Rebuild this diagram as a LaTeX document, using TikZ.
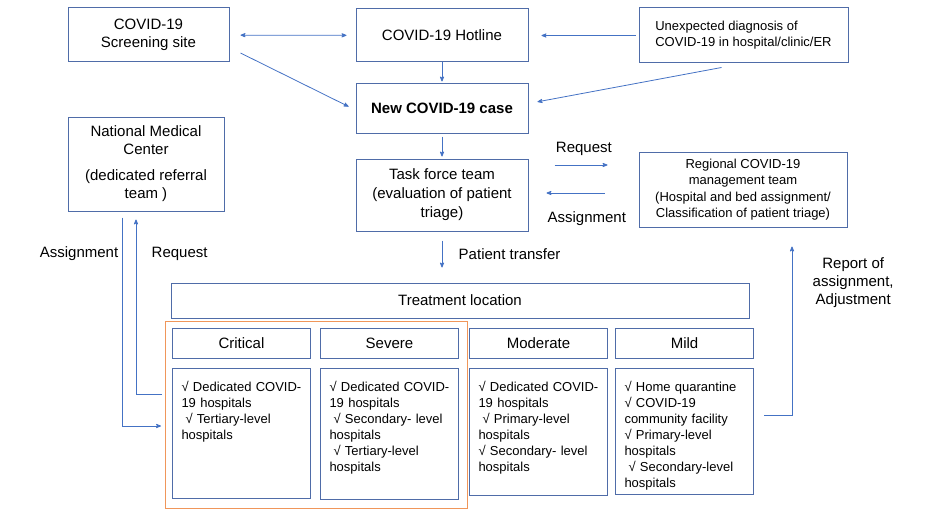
\documentclass[tikz,border=0pt]{standalone}
\usepackage{fontspec}
\setmainfont{Liberation Sans}
\usetikzlibrary{arrows,positioning}

\definecolor{boxc}{RGB}{79,108,168}
\definecolor{linec}{RGB}{68,114,196}
\definecolor{framec}{RGB}{240,150,90}
\newcommand\mainsize{\fontsize{15}{18}\selectfont}
\newcommand\listsize{\fontsize{13}{16}\selectfont}

\begin{document}
\begin{tikzpicture}[x=1pt,y=-1pt,>=stealth',shorten >=1pt,node distance=9pt,
  box/.style={draw=boxc,line width=1pt,align=center,font=\mainsize,inner sep=2pt},
  small box/.style={box,font=\listsize},
  head/.style={box,minimum width=138pt,minimum height=30pt},
  list/.style={draw=boxc,line width=1pt,align=left,font=\listsize,inner sep=0pt,
    text width=138pt,text height=23pt,execute at begin node={\leftskip=9pt}},
  link/.style={->,draw=linec,line width=0.8pt},
  label/.style={font=\mainsize,align=center}]

  \useasboundingbox (0,0) rectangle (937,519);

  % top row
  \node[box,minimum width=161pt,minimum height=54pt] (screen) at (148.5,35) {COVID-19\\Screening site};
  \node[box,minimum width=172pt,minimum height=53pt] (hotline) at (442,35.5) {COVID-19 Hotline};
  \node[small box,align=left,minimum width=209pt,minimum height=55pt] (unexp) at (743.5,35.5)
    {Unexpected diagnosis of\\COVID-19 in hospital/clinic/ER};
  \node[box,minimum width=172pt,minimum height=50pt,font=\mainsize\bfseries] (newcase) [below=20pt of hotline] {New COVID-19 case};
  \node[box,minimum width=172pt,minimum height=72pt] (task) [below=25pt of newcase]
    {Task force team\\[1pt](evaluation of patient\\[1pt]triage)};
  \node[box,minimum width=156pt,minimum height=94pt] (nmc) at (146,164)
    {National Medical\\Center\\[8pt](dedicated referral\\team )};
  \node[small box,minimum width=208pt,minimum height=75pt] (regional) at (743,189.5)
    {Regional COVID-19\\[0.3pt]management team\\[0.3pt](Hospital and bed assignment/\\[0.3pt]Classification of patient triage)};

  % treatment location
  \node[box,minimum width=578pt,minimum height=35pt] (treat) at (460,300.5) {Treatment location};
  \node[head] (crithead) at (241.5,343) {Critical};
  \node[head] (sevhead) [right=9pt of crithead] {Severe};
  \node[head] (modhead) [right=10pt of sevhead] {Moderate};
  \node[head] (mildhead) [right=7pt of modhead] {Mild};

  \node[list,text depth=107pt] (critbody) [below=of crithead]
    {√ Dedicated COVID-\\19 hospitals\\\hspace*{4pt}√ Tertiary-level\\hospitals};
  \node[list,text depth=108pt] (sevbody) [below=of sevhead]
    {√ Dedicated COVID-\\19 hospitals\\\hspace*{4pt}√ Secondary- level\\hospitals\\\hspace*{4pt}√ Tertiary-level\\hospitals};
  \node[list,text depth=104pt] (modbody) [below=of modhead]
    {√ Dedicated COVID-\\19 hospitals\\\hspace*{4pt}√ Primary-level\\hospitals\\√ Secondary- level\\hospitals};
  \node[list,text depth=103pt] (mildbody) [below=of mildhead]
    {√ Home quarantine\\√ COVID-19\\community facility\\√ Primary-level\\hospitals\\\hspace*{4pt}√ Secondary-level\\hospitals};

  \draw[framec,line width=1pt] ([shift={(-7,-6)}]crithead.north west) rectangle ([shift={(8,9)}]sevbody.south east);

  % connectors
  \draw[link,<->,shorten <=11pt,shorten >=9pt] (screen) -- (hotline);
  \draw[link] ([shift={(11,18)}]screen.east) -- ([shift={(-6,-1)}]newcase.west);
  \draw[link,shorten <=3pt,shorten >=13pt] (unexp.west) -- (hotline.east);
  \draw[link] ([shift={(-22,4)}]unexp.south) -- ([shift={(8,-6)}]newcase.east);
  \draw[link] (hotline) -- (newcase);
  \draw[link,shorten <=3pt,shorten >=2pt] (newcase) -- (task);
  \draw[link,shorten <=9pt,shorten >=15pt] (task) -- (task.south |- treat.north)
    node[label,pos=.44,right=13pt] {Patient transfer};

  \draw[link,shorten >=31pt] ([shift={(26,-30)}]task.east) coordinate (req) -- (req -| regional.west)
    node[label,pos=.35,above=6pt] {Request};
  \draw[link,shorten <=34pt,shorten >=18pt] ([shift={(0,-2)}]task.east) coordinate (asg)
    (asg -| regional.west) -- (asg)
    node[label,pos=.47,below=15pt] {Assignment};

  \draw[link] ([shift={(-24,6)}]nmc.south) |- ([shift={(-10,-7)}]critbody.west)
    node[label,pos=.087,left] {Assignment};
  \draw[link] ([shift={(-10,-39)}]critbody.west) -| ([shift={(-10,7)}]nmc.south)
    node[label,pos=.9,right=12pt] {Request};

  \draw[link] ([shift={(10,-16)}]mildbody.east) -| ([shift={(49,18)}]regional.south)
    node[label,pos=.89,right=17pt] {Report of\\assignment,\\Adjustment};
\end{tikzpicture}
\end{document}
